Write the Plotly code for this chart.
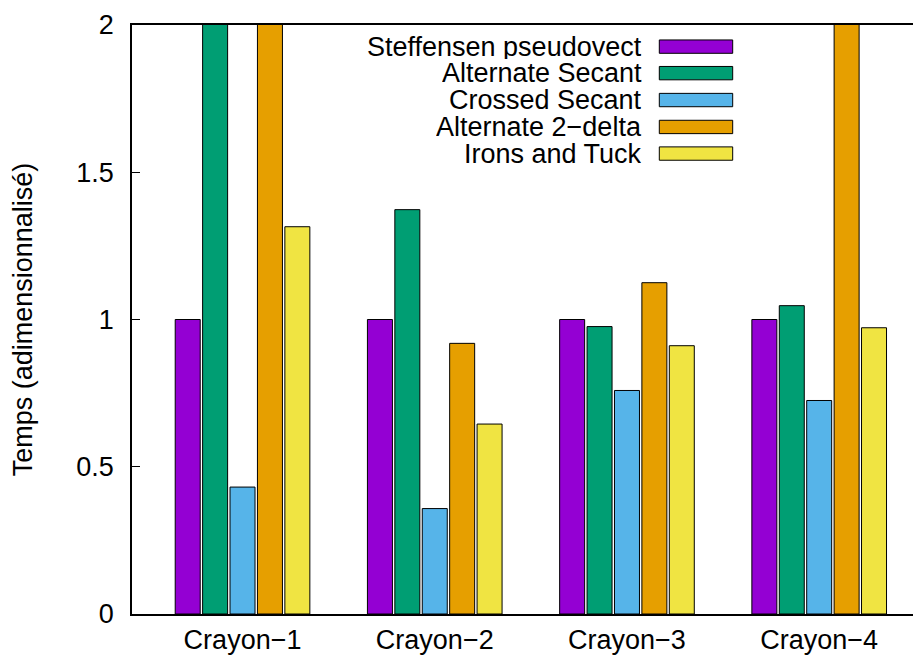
import plotly.graph_objects as go

categories = ["Crayon\u22121", "Crayon\u22122", "Crayon\u22123", "Crayon\u22124"]
series_names = ["Steffensen pseudovect", "Alternate Secant", "Crossed Secant",
                "Alternate 2\u2212delta", "Irons and Tuck"]
steffensen = [1.0, 1.0, 1.0, 1.0]
alt_secant = [2.6, 1.373, 0.976, 1.047]
crossed_secant = [0.431, 0.358, 0.759, 0.725]
alt_2delta = [2.6, 0.919, 1.125, 2.6]
irons_tuck = [1.315, 0.645, 0.911, 0.972]
y_ticks = [0, 0.5, 1, 1.5, 2]
y_ticklabels = ["0", "0.5", "1", "1.5", "2"]

colors = ["#9400D3", "#009E73", "#56B4E9", "#E69F00", "#F0E442"]
series = [steffensen, alt_secant, crossed_secant, alt_2delta, irons_tuck]

W, H = 913, 655
L, R, T, B = 132, 0, 25, 39
FONT = "Liberation Sans, Arial, sans-serif"
FS = 27

xs = list(range(len(categories)))
fig = go.Figure()
for name, vals, col in zip(series_names, series, colors):
    fig.add_trace(go.Bar(x=xs, y=vals, name=name, marker_color=col,
                         marker_line_color="black", marker_line_width=1,
                         showlegend=False))

pw = W - L - R
ph = H - T - B
shapes = []
annotations = []
row_px = [46.7, 73.3, 100.3, 127.3, 154.0]
for i, (name, col) in enumerate(zip(series_names, colors)):
    yc = row_px[i]
    yp = (H - B - yc) / ph
    h = 6.7 / ph
    shapes.append(dict(type="rect", xref="paper", yref="paper",
                       x0=(659.3 - L) / pw, x1=(732.7 - L) / pw,
                       y0=yp - h, y1=yp + h, fillcolor=col,
                       line=dict(color="black", width=1)))
    annotations.append(dict(xref="paper", yref="paper", x=(644 - L) / pw, y=yp,
                            text=name, showarrow=False, xanchor="right",
                            yanchor="middle", height=24,
                            font=dict(family=FONT, size=FS, color="black")))

fig.update_layout(
    width=W, height=H,
    margin=dict(l=L, r=R, t=T, b=B, pad=0),
    plot_bgcolor="white", paper_bgcolor="white",
    barmode="group", bargap=0.287, bargroupgap=0.088,
    font=dict(family=FONT, size=FS, color="black"),
    shapes=shapes, annotations=annotations,
    xaxis=dict(range=[-0.575, 3.488], tickvals=xs, ticktext=categories,
               showline=True, linecolor="black", linewidth=1.5, mirror=True,
               showgrid=False, zeroline=False, ticks="", ticklabelstandoff=1),
    yaxis=dict(range=[0, 2], tickvals=y_ticks, ticktext=y_ticklabels,
               showline=True, linecolor="black", linewidth=1.5,
               showgrid=False, zeroline=False, ticks="inside", ticklen=8,
               tickcolor="black", ticklabelstandoff=11,
               title=dict(text="Temps (adimensionnalisé)", standoff=36,
                          font=dict(family=FONT, size=FS))),
)
fig.write_html("out.html", config={"displayModeBar": False},
               post_script="document.body.style.margin='0';document.body.style.padding='0';")
